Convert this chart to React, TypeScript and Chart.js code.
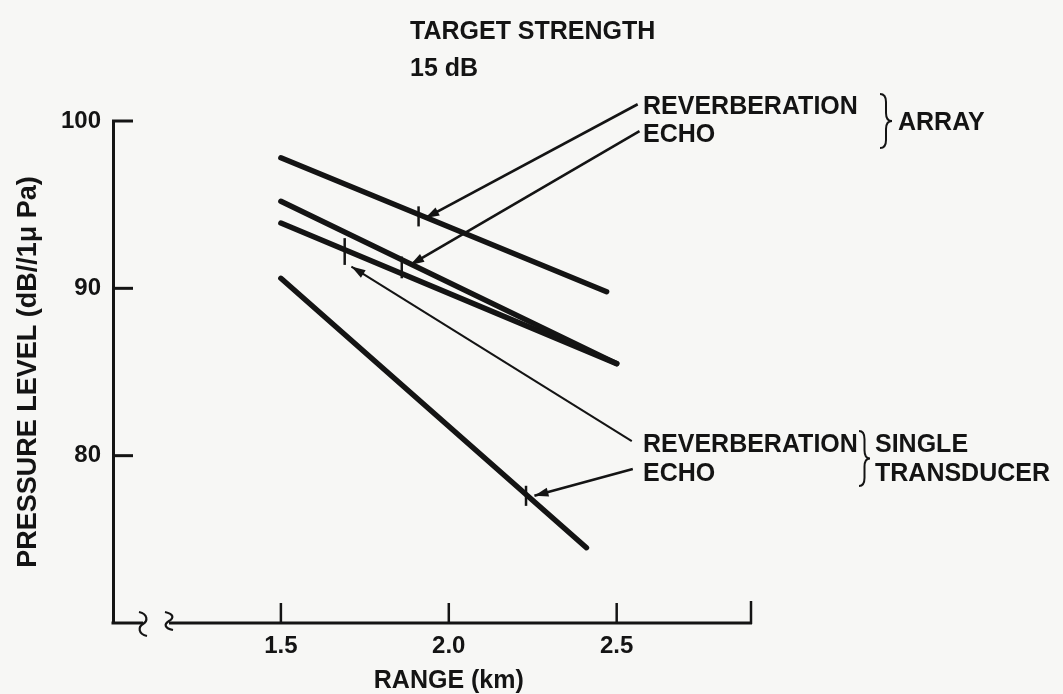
import { useEffect, useRef } from "react";
import { Chart, registerables } from "chart.js";

Chart.register(...registerables);

// ---- data (range in km, pressure level in dB//1uPa) ----
const arrayReverbRange = [1.5, 2.47];
const arrayReverbLevel = [97.8, 89.8];
const arrayEchoRange = [1.5, 2.5];
const arrayEchoLevel = [95.2, 85.5];
const singleReverbRange = [1.5, 2.5];
const singleReverbLevel = [93.9, 85.5];
const singleEchoRange = [1.5, 2.41];
const singleEchoLevel = [90.6, 74.5];

const xTickValues = [1.5, 2.0, 2.5];
const yTickValues = [80, 90, 100];
const xMin = 1.0;
const xMax = 2.9;
const yMin = 70;
const yMax = 100;

// marker ticks on the curves [range, levelTop, levelBottom]
const markerTicks = [
  [1.91, 94.9, 93.7],
  [1.86, 91.9, 90.6],
  [1.69, 93.0, 91.4],
  [2.23, 78.2, 77.0],
];
// leader lines [fromRange, fromLevel, tipRange, tipLevel]
const leaders = [
  [2.5625, 101.0, 1.93, 94.2],
  [2.568, 99.4, 1.885, 91.4],
  [2.545, 80.87, 1.71, 91.3],
  [2.548, 79.2, 2.255, 77.6],
];

const INK = "#141414";
const FONT = '"Liberation Sans", Arial, Helvetica, sans-serif';

const toPts = (xs: number[], ys: number[]) => xs.map((v, i) => ({ x: v, y: ys[i] }));

const annotPlugin = {
  id: "annot",
  beforeDraw(chart: any) {
    const { ctx, width, height } = chart;
    ctx.save();
    ctx.fillStyle = "#f7f7f5";
    ctx.fillRect(0, 0, width, height);
    ctx.restore();
  },
  afterDraw(chart: any) {
    const { ctx, chartArea } = chart;
    const xs = chart.scales.x;
    const ys = chart.scales.y;
    const px = (v: number) => xs.getPixelForValue(v);
    const py = (v: number) => ys.getPixelForValue(v);
    const line = (x1: number, y1: number, x2: number, y2: number) => {
      ctx.beginPath();
      ctx.moveTo(x1, y1);
      ctx.lineTo(x2, y2);
      ctx.stroke();
    };
    ctx.save();
    ctx.strokeStyle = INK;
    ctx.fillStyle = INK;
    ctx.lineCap = "butt";

    // y ticks (pointing into plot)
    ctx.lineWidth = 3;
    yTickValues.forEach((v) => line(chartArea.left - 1, py(v), chartArea.left + 20, py(v)));

    // x axis with break
    const yb = chartArea.bottom;
    const s1 = chartArea.left + 30;
    const s2 = chartArea.left + 56;
    ctx.lineWidth = 3;
    line(chartArea.left - 1.5, yb, s1, yb);
    line(s2, yb, chartArea.right + 1, yb);
    const squiggle = (cx: number, yTop: number, yBot: number) => {
      const ym = (yTop + yBot) / 2;
      ctx.beginPath();
      ctx.moveTo(cx - 4, yTop);
      ctx.bezierCurveTo(cx + 5, yTop + 2, cx + 5, ym - 3, cx, ym);
      ctx.bezierCurveTo(cx - 5, ym + 3, cx - 5, yBot - 2, cx + 4, yBot);
      ctx.stroke();
    };
    ctx.lineWidth = 2.2;
    squiggle(s1, yb - 11, yb + 13);
    squiggle(s2, yb - 11, yb + 7);

    // x ticks (pointing up)
    ctx.lineWidth = 2.5;
    xTickValues.forEach((v) => line(px(v), yb, px(v), yb - 20));
    line(px(xMax), yb + 1, px(xMax), yb - 22);

    // x title
    ctx.font = `bold 25px ${FONT}`;
    ctx.textAlign = "center";
    ctx.textBaseline = "alphabetic";
    ctx.fillText("RANGE (km)", px(2.0), 688);

    // marker ticks on curves
    ctx.lineWidth = 2.5;
    markerTicks.forEach(([r, a, b]) => line(px(r), py(a), px(r), py(b)));

    // leaders with arrowheads
    leaders.forEach(([r1, l1, r2, l2], i) => {
      const x1 = px(r1), y1 = py(l1), x2 = px(r2), y2 = py(l2);
      ctx.lineWidth = i === 2 ? 2 : 2.6;
      line(x1, y1, x2, y2);
      const ang = Math.atan2(y2 - y1, x2 - x1);
      const L = 14, W = 4.5;
      ctx.beginPath();
      ctx.moveTo(x2, y2);
      ctx.lineTo(x2 - L * Math.cos(ang) + W * Math.sin(ang), y2 - L * Math.sin(ang) - W * Math.cos(ang));
      ctx.lineTo(x2 - L * Math.cos(ang) - W * Math.sin(ang), y2 - L * Math.sin(ang) + W * Math.cos(ang));
      ctx.closePath();
      ctx.fill();
    });

    // texts
    ctx.textAlign = "left";
    ctx.font = `bold 25px ${FONT}`;
    ctx.fillText("TARGET STRENGTH", 410, 39);
    ctx.fillText("15 dB", 410, 76);
    ctx.fillText("REVERBERATION", 643, 114);
    ctx.fillText("ECHO", 643, 142);
    ctx.fillText("ARRAY", 898, 130);
    ctx.fillText("REVERBERATION", 643, 452);
    ctx.fillText("ECHO", 643, 481);
    ctx.fillText("SINGLE", 875, 452);
    ctx.fillText("TRANSDUCER", 875, 481);

    // braces
    const brace = (x0: number, x1: number, yTop: number, yBot: number) => {
      const xm = (x0 + x1) / 2;
      const ym = (yTop + yBot) / 2;
      ctx.beginPath();
      ctx.moveTo(x0, yTop);
      ctx.quadraticCurveTo(xm, yTop, xm, yTop + (ym - yTop) * 0.3);
      ctx.lineTo(xm, ym - (ym - yTop) * 0.3);
      ctx.quadraticCurveTo(xm, ym, x1, ym);
      ctx.quadraticCurveTo(xm, ym, xm, ym + (yBot - ym) * 0.3);
      ctx.lineTo(xm, yBot - (yBot - ym) * 0.3);
      ctx.quadraticCurveTo(xm, yBot, x0, yBot);
      ctx.stroke();
    };
    ctx.lineWidth = 2;
    brace(880, 892, 94, 148);
    brace(859, 870, 431, 486);

    ctx.restore();
  },
};

export default function App() {
  const ref = useRef<HTMLCanvasElement | null>(null);
  useEffect(() => {
    document.body.style.margin = "0";
    document.body.style.background = "#f7f7f5";
    if (!ref.current) return;
    const mk = (xsv: number[], ysv: number[]) => ({
      data: toPts(xsv, ysv),
      showLine: true,
      borderColor: INK,
      borderWidth: 5.5,
      borderCapStyle: "round" as const,
      pointRadius: 0,
      fill: false,
    });
    const chart = new Chart(ref.current, {
      type: "scatter",
      data: {
        datasets: [
          { label: "Array reverberation", ...mk(arrayReverbRange, arrayReverbLevel) },
          { label: "Array echo", ...mk(arrayEchoRange, arrayEchoLevel) },
          { label: "Single transducer reverberation", ...mk(singleReverbRange, singleReverbLevel) },
          { label: "Single transducer echo", ...mk(singleEchoRange, singleEchoLevel) },
        ],
      },
      options: {
        responsive: false,
        animation: false,
        layout: { padding: { top: 121, right: 312, left: 0, bottom: 0 } },
        plugins: { legend: { display: false }, tooltip: { enabled: false } },
        scales: {
          x: {
            type: "linear",
            min: xMin,
            max: xMax,
            grid: { display: false, drawTicks: false },
            border: { display: false },
            afterBuildTicks: (s: any) => {
              s.ticks = xTickValues.map((v) => ({ value: v }));
            },
            afterFit: (s: any) => {
              s.height = 71;
            },
            ticks: {
              color: INK,
              font: { family: FONT, size: 24, weight: "bold" },
              padding: 9,
              maxRotation: 0,
              autoSkip: false,
              callback: (v: any) => Number(v).toFixed(1),
            },
          },
          y: {
            min: yMin,
            max: yMax,
            grid: { display: false, drawTicks: false },
            border: { display: true, color: INK, width: 3 },
            afterBuildTicks: (s: any) => {
              s.ticks = yTickValues.map((v) => ({ value: v }));
            },
            afterFit: (s: any) => {
              s.width = 113;
            },
            ticks: {
              color: INK,
              font: { family: FONT, size: 24, weight: "bold" },
              padding: 12,
              autoSkip: false,
            },
            title: {
              display: true,
              text: "PRESSURE LEVEL (dB//1μ Pa)",
              color: INK,
              font: { family: FONT, size: 27, weight: "bold" },
              padding: { top: 12, bottom: 0 },
            },
          },
        },
      },
      plugins: [annotPlugin],
    });
    return () => chart.destroy();
  }, []);
  return <canvas ref={ref} width={1063} height={694} style={{ display: "block" }} />;
}
